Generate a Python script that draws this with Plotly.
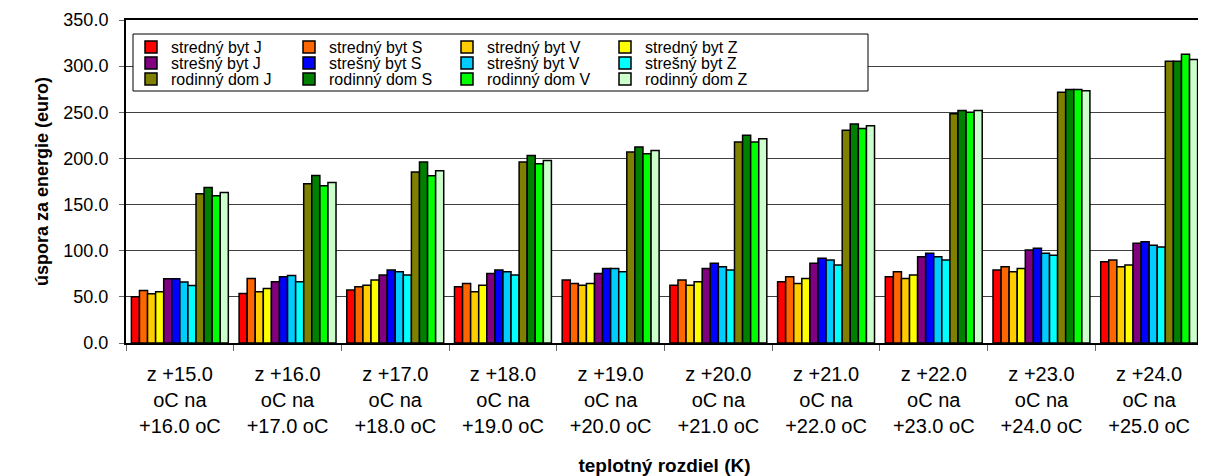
import plotly.graph_objects as go

categories = [
    "z +15.0<br>oC na<br>+16.0 oC",
    "z +16.0<br>oC na<br>+17.0 oC",
    "z +17.0<br>oC na<br>+18.0 oC",
    "z +18.0<br>oC na<br>+19.0 oC",
    "z +19.0<br>oC na<br>+20.0 oC",
    "z +20.0<br>oC na<br>+21.0 oC",
    "z +21.0<br>oC na<br>+22.0 oC",
    "z +22.0<br>oC na<br>+23.0 oC",
    "z +23.0<br>oC na<br>+24.0 oC",
    "z +24.0<br>oC na<br>+25.0 oC",
]

series_names = [
    "stredný byt J", "stredný byt S", "stredný byt V", "stredný byt Z",
    "strešný byt J", "strešný byt S", "strešný byt V", "strešný byt Z",
    "rodinný dom J", "rodinný dom S", "rodinný dom V", "rodinný dom Z",
]

stredny_byt_J = [50.0, 53.7, 57.3, 60.9, 68.2, 62.7, 66.3, 71.8, 79.0, 88.0]
stredny_byt_S = [57.0, 70.0, 60.9, 64.5, 64.5, 68.2, 71.8, 77.2, 82.6, 89.9]
stredny_byt_V = [53.3, 55.5, 62.7, 55.5, 62.7, 62.7, 64.5, 70.0, 77.2, 82.6]
stredny_byt_Z = [55.5, 59.0, 68.2, 62.7, 64.5, 66.3, 70.0, 73.6, 80.8, 84.5]
stresny_byt_J = [69.6, 66.3, 73.6, 75.4, 75.4, 80.8, 86.3, 93.5, 100.8, 108.0]
stresny_byt_S = [69.6, 71.8, 79.0, 79.0, 80.8, 86.3, 91.7, 97.2, 102.6, 109.8]
stresny_byt_V = [66.0, 73.2, 77.2, 77.2, 80.8, 82.6, 89.9, 93.5, 97.2, 105.9]
stresny_byt_Z = [62.4, 66.3, 73.6, 73.6, 77.2, 79.0, 84.5, 89.9, 95.0, 104.0]
rodinny_dom_J = [161.6, 172.5, 185.2, 196.0, 207.0, 217.8, 230.4, 248.3, 271.7, 305.4]
rodinny_dom_S = [168.5, 181.5, 196.0, 203.3, 212.4, 225.0, 237.4, 251.8, 274.7, 305.4]
rodinny_dom_V = [159.5, 170.3, 181.2, 194.2, 205.1, 217.8, 232.3, 250.0, 274.7, 313.0]
rodinny_dom_Z = [163.0, 174.0, 186.6, 197.8, 208.7, 221.4, 235.5, 251.8, 273.3, 307.3]

series_values = [
    stredny_byt_J, stredny_byt_S, stredny_byt_V, stredny_byt_Z,
    stresny_byt_J, stresny_byt_S, stresny_byt_V, stresny_byt_Z,
    rodinny_dom_J, rodinny_dom_S, rodinny_dom_V, rodinny_dom_Z,
]

colors = [
    "#FF0000", "#FF6600", "#FFCC00", "#FFFF00",
    "#800080", "#0000FF", "#00CCFF", "#00FFFF",
    "#808000", "#008000", "#00FF00", "#CCFFCC",
]

legend_ids = ["legend", "legend", "legend", "legend",
              "legend2", "legend2", "legend2", "legend2",
              "legend3", "legend3", "legend3", "legend3"]

FONT = "Liberation Sans, Arial, sans-serif"

fig = go.Figure()
for name, vals, col, lg in zip(series_names, series_values, colors, legend_ids):
    fig.add_trace(go.Bar(
        x=categories, y=vals, name=name, legend=lg,
        marker=dict(color=col, line=dict(color="black", width=1.5)),
    ))

# page offset (body margin) and plot area geometry in screen pixels
OFF = 8
W, H = 1206 - OFF, 476 - OFF
L, T = 126 - OFF, 20 - OFF
R = W - (1203 - OFF)
B = H - (343 - OFF)
pw = W - L - R
ph = H - T - B

def px_x(x):
    return (x - OFF - L) / pw

def px_y(y):
    return (H - B - (y - OFF)) / ph

legend_common = dict(
    orientation="h", xanchor="left", yanchor="middle",
    bgcolor="rgba(0,0,0,0)", borderwidth=0,
    font=dict(family=FONT, size=16, color="black"),
    entrywidth=113, entrywidthmode="pixels",
    itemclick=False, itemdoubleclick=False,
    tracegroupgap=0,
)

fig.update_layout(
    width=W, height=H,
    margin=dict(l=L, r=R, t=T, b=B, autoexpand=False),
    paper_bgcolor="white", plot_bgcolor="white",
    barmode="group", bargap=0.1, bargroupgap=0.0,
    font=dict(family=FONT, color="black"),
    showlegend=True,
    legend=dict(legend_common, x=px_x(131), y=px_y(47)),
    legend2=dict(legend_common, x=px_x(131), y=px_y(63)),
    legend3=dict(legend_common, x=px_x(131), y=px_y(79)),
    shapes=[dict(
        type="rect", xref="paper", yref="paper",
        x0=px_x(133), x1=px_x(868), y0=px_y(91), y1=px_y(34),
        line=dict(color="black", width=1), fillcolor="white", layer="above",
    )],
)

fig.update_xaxes(
    showline=True, linecolor="black", linewidth=2, mirror=True,
    ticks="outside", tickson="boundaries", ticklen=6, tickcolor="#666666", tickwidth=1,
    ticklabelstandoff=12,
    tickfont=dict(family=FONT, size=20, color="black"),
    showgrid=False,
    title=dict(text="<b>teplotný rozdiel (K)</b>", font=dict(family=FONT, size=19, color="black"), standoff=23),
    automargin=False,
)

fig.update_yaxes(
    range=[0, 350], dtick=50, tick0=0, tickformat=".1f",
    showline=True, linecolor="black", linewidth=2, mirror=True,
    ticks="outside", ticklen=5, tickcolor="#666666", tickwidth=1,
    ticklabelstandoff=7,
    tickfont=dict(family=FONT, size=18, color="black"),
    showgrid=True, gridcolor="#404040", gridwidth=1,
    zeroline=False,
    title=dict(text="<b>úspora za energie (euro)</b>", font=dict(family=FONT, size=18, color="black"), standoff=10),
    automargin=False,
)

fig.write_html("out.html")
